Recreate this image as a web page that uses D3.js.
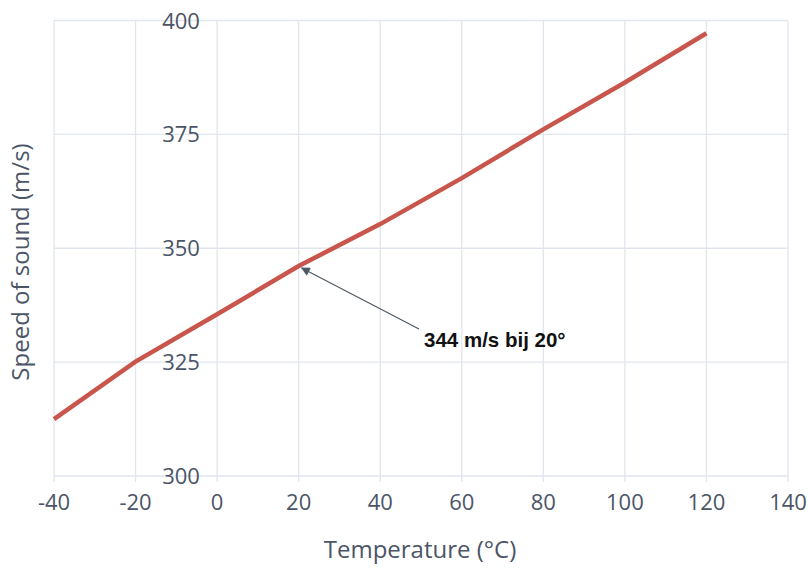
<!DOCTYPE html>
<html>
<head>
<meta charset="utf-8">
<script src="https://cdn.jsdelivr.net/npm/d3@7"></script>
<style>
body { margin: 0; background: #fff; }
text { font-family: "Open Sans", "Noto Sans", sans-serif; fill: #4b5567; }
</style>
</head>
<body>
<svg width="809" height="568"></svg>
<script>
var temps = [-40, -20, 0, 20, 40, 60, 80, 100, 120];
var speeds = [312.5, 325.1, 335.5, 346.1, 355.3, 365.4, 376.1, 386.4, 397.2];
var xTicks = [-40, -20, 0, 20, 40, 60, 80, 100, 120, 140];
var yTicks = [300, 325, 350, 375, 400];
var note = {x: 20, y: 346.1, label: "344 m/s bij 20°"};

var svg = d3.select("svg");
var plotLeft = 54, plotRight = 788, plotTop = 20.5, plotBottom = 476;

var x = d3.scaleLinear().domain([-40, 140]).range([plotLeft, plotRight]);
var y = d3.scaleLinear().domain([300, 400]).range([plotBottom, plotTop]);

var data = temps.map(function(t, i) { return {t: t, v: speeds[i]}; });

var grid = svg.append("g").attr("stroke", "#e1e5ee").attr("stroke-width", 1.3);

grid.selectAll(".vx")
.data(xTicks)
.enter()
.append("line")
.attr("x1", (d)=>x(d))
.attr("x2", (d)=>x(d))
.attr("y1", plotTop)
.attr("y2", plotBottom + 6);

grid.selectAll(".hy")
.data(yTicks)
.enter()
.append("line")
.attr("x1", plotLeft)
.attr("x2", plotRight)
.attr("y1", (d)=>y(d))
.attr("y2", (d)=>y(d));

svg.append("g")
.selectAll("text")
.data(xTicks)
.enter()
.append("text")
.attr("x", (d)=>x(d))
.attr("y", 510)
.attr("text-anchor", "middle")
.attr("font-size", 22)
.text((d)=>d);

svg.append("g")
.selectAll("text")
.data(yTicks)
.enter()
.append("text")
.attr("x", 181)
.attr("y", (d)=>y(d) + 8)
.attr("text-anchor", "middle")
.attr("font-size", 22)
.text((d)=>d);

var line = d3.line()
.x((d)=>x(d.t))
.y((d)=>y(d.v));

svg.append("path")
.datum(data)
.attr("fill", "none")
.attr("stroke", "#c8564c")
.attr("stroke-width", 4.5)
.attr("d", line);

svg.append("defs")
.append("marker")
.attr("id", "arrow")
.attr("viewBox", "0 0 10 10")
.attr("refX", 9)
.attr("refY", 5)
.attr("markerWidth", 12)
.attr("markerHeight", 9)
.attr("markerUnits", "userSpaceOnUse")
.attr("orient", "auto")
.append("path")
.attr("d", "M0,0L10,5L0,10Z")
.attr("fill", "#4f5a63");

svg.append("line")
.attr("x1", 419)
.attr("y1", 329)
.attr("x2", x(note.x) + 3)
.attr("y2", y(note.y) + 2)
.attr("stroke", "#4f5a63")
.attr("stroke-width", 1.2)
.attr("marker-end", "url(#arrow)");

svg.append("text")
.attr("x", 424)
.attr("y", 347)
.style("font-family", "'Liberation Sans', Arial, sans-serif")
.style("font-weight", "bold")
.style("font-size", "20.5px")
.style("fill", "#111")
.text(note.label);

svg.append("text")
.attr("x", 420)
.attr("y", 558)
.attr("text-anchor", "middle")
.attr("font-size", 24)
.text("Temperature (°C)");

svg.append("text")
.attr("transform", "translate(29,262) rotate(-90)")
.attr("text-anchor", "middle")
.attr("font-size", 24)
.text("Speed of sound (m/s)");
</script>
</body>
</html>
